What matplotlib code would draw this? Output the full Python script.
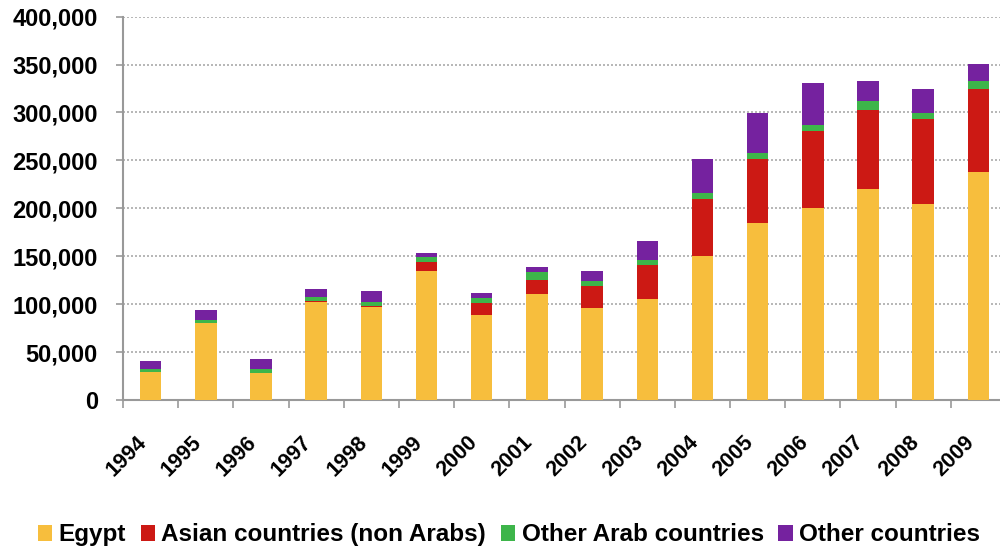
import numpy as np
import matplotlib.pyplot as plt
from matplotlib.ticker import FuncFormatter, MultipleLocator

years = ['1994', '1995', '1996', '1997', '1998', '1999', '2000', '2001',
         '2002', '2003', '2004', '2005', '2006', '2007', '2008', '2009']
egypt = [29000, 80000, 28000, 102500, 97500, 135000, 89000, 110500,
         95500, 105000, 150000, 184500, 200000, 220000, 204000, 238000]
asian = [500, 500, 500, 500, 500, 8500, 12000, 15000,
         23000, 36000, 60000, 67000, 80500, 83000, 89500, 87000]
other_arab = [2500, 2500, 4000, 4000, 4500, 6000, 5500, 8500,
              6000, 5000, 6000, 6000, 6000, 8500, 5500, 7500]
other = [8500, 11000, 10000, 8500, 11000, 4000, 5000, 5000,
         10500, 20000, 35000, 41500, 44500, 21500, 25500, 18500]

series = [('Egypt', egypt, '#F7BE3D'),
          ('Asian countries (non Arabs)', asian, '#CC1914'),
          ('Other Arab countries', other_arab, '#3DB54A'),
          ('Other countries', other, '#75229F')]

plt.rcParams['font.family'] = ['Liberation Sans', 'DejaVu Sans']
plt.rcParams['font.weight'] = 'bold'

fig = plt.figure(figsize=(10, 5.52), dpi=100)
ax = fig.add_axes([0.123, 0.2754, 0.883, 0.6944])

x = np.arange(len(years))
bottom = np.zeros(len(years))
for name, vals, col in series:
    ax.bar(x, vals, 0.39, bottom=bottom, color=col, label=name, zorder=3)
    bottom += np.array(vals)

ax.set_ylim(0, 400000)
ax.set_xlim(-0.5, len(years) - 0.5)
ax.yaxis.set_major_locator(MultipleLocator(50000))
ax.yaxis.set_major_formatter(FuncFormatter(lambda v, p: f'{int(v):,}'))
ax.grid(axis='y', color='#aaaaaa', linestyle=(0, (1.2, 1.2)), linewidth=1.2, zorder=0)

# year labels on the bars, small ticks on the category boundaries
ax.set_xticks(x)
ax.set_xticklabels(years, rotation=45, ha='right', va='top')
ax.set_xticks(np.arange(-0.5, len(years), 1), minor=True)
ax.tick_params(axis='x', which='major', length=0, pad=23, labelsize=15.5)
ax.tick_params(axis='x', which='minor', length=6, color='#999999', width=1.2)
ax.tick_params(axis='y', length=5, color='#999999', width=1.2, labelsize=17, pad=13)

for s in ['top', 'right']:
    ax.spines[s].set_visible(False)
for s in ['left', 'bottom']:
    ax.spines[s].set_color('#999999')
    ax.spines[s].set_linewidth(1.5)

fig.legend(loc='center', bbox_to_anchor=(0.509, 0.031), ncol=4, frameon=False,
           fontsize=17.5, handlelength=0.6, handleheight=0.6, handletextpad=0.26,
           columnspacing=0.6, borderpad=0)

fig.savefig('out.png', dpi=100, facecolor='white')
